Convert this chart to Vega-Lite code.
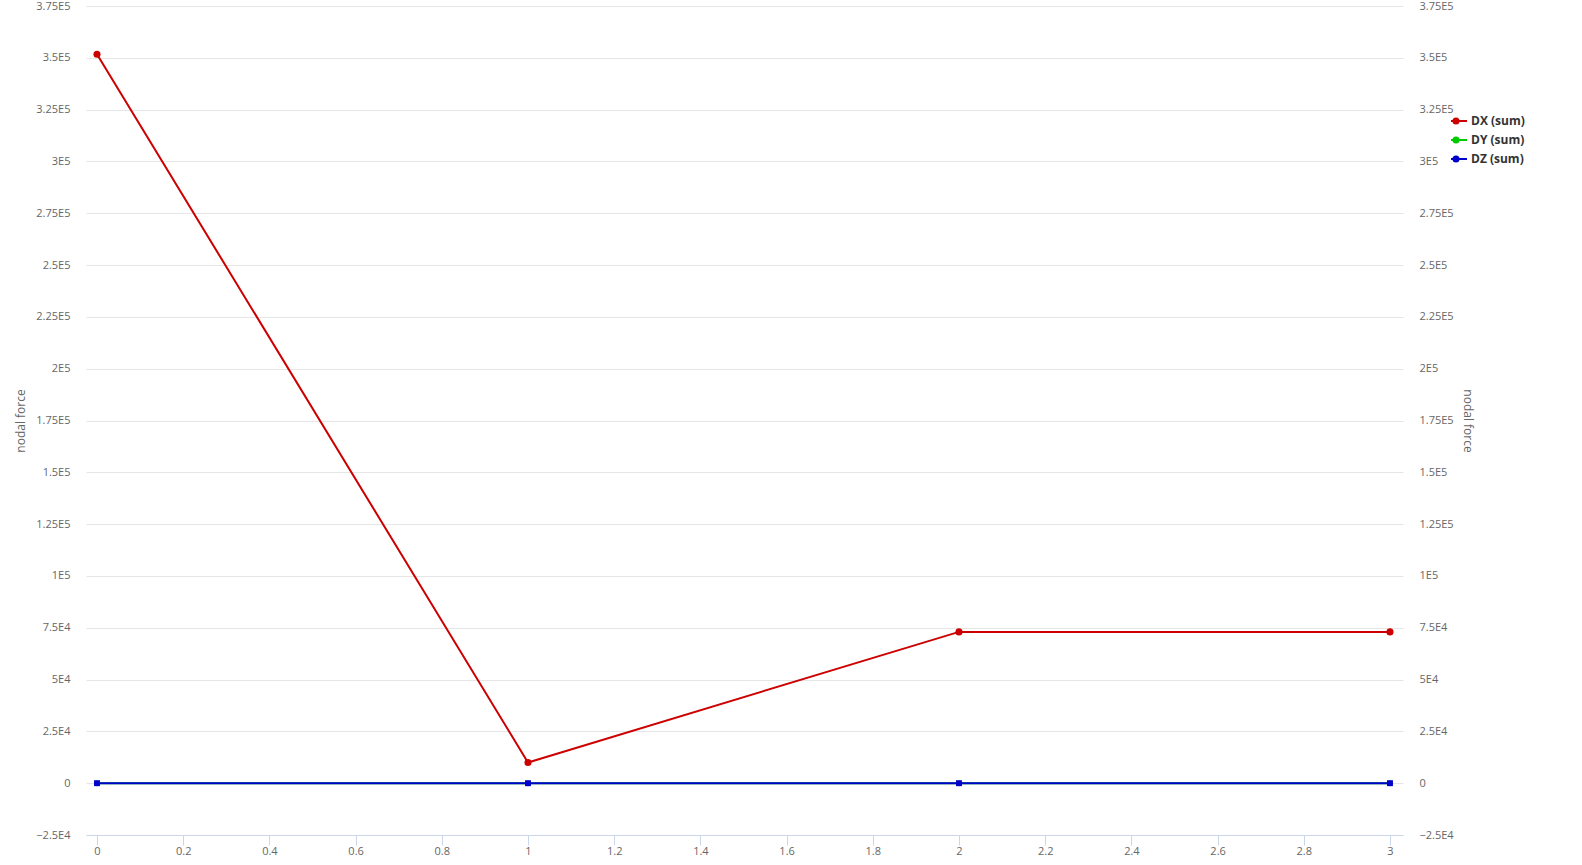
{
  "$schema": "https://vega.github.io/schema/vega-lite/v6.json",
  "width": 1317,
  "height": 829,
  "autosize": {"type": "none"},
  "padding": {"left": 86, "top": 6, "right": 179, "bottom": 30},
  "background": "#ffffff",
  "config": {
    "view": {"stroke": null},
    "font": "Open Sans",
    "axis": {
      "labelColor": "#666666",
      "labelFontSize": 11,
      "titleColor": "#666666",
      "titleFontSize": 12,
      "titleFontWeight": "normal",
      "gridColor": "#e6e6e6",
      "gridWidth": 1
    }
  },
  "data": {
    "values": [
      {"series": "DX (sum)", "x": 0, "value": 351700},
      {"series": "DX (sum)", "x": 1, "value": 10000},
      {"series": "DX (sum)", "x": 2, "value": 73000},
      {"series": "DX (sum)", "x": 3, "value": 73000},
      {"series": "DY (sum)", "x": 0, "value": 0},
      {"series": "DY (sum)", "x": 1, "value": 0},
      {"series": "DY (sum)", "x": 2, "value": 0},
      {"series": "DY (sum)", "x": 3, "value": 0},
      {"series": "DZ (sum)", "x": 0, "value": 0},
      {"series": "DZ (sum)", "x": 1, "value": 0},
      {"series": "DZ (sum)", "x": 2, "value": 0},
      {"series": "DZ (sum)", "x": 3, "value": 0}
    ]
  },
  "layer": [
    {
      "mark": {"type": "line", "strokeWidth": 2},
      "encoding": {
        "x": {
          "field": "x", "type": "quantitative",
          "scale": {"domain": [-0.0255, 3.0302], "nice": false, "zero": false},
          "axis": {
            "title": null,
            "values": [0, 0.2, 0.4, 0.6, 0.8, 1, 1.2, 1.4, 1.6, 1.8, 2, 2.2, 2.4, 2.6, 2.8, 3],
            "format": "~g",
            "grid": false,
            "domainColor": "#ccd6eb",
            "tickColor": "#ccd6eb",
            "tickSize": 10,
            "labelPadding": 0
          }
        },
        "y": {
          "field": "value", "type": "quantitative",
          "scale": {"domain": [-25000, 375000], "nice": false, "zero": false},
          "axis": {
            "title": "nodal force",
            "orient": "left",
            "values": [-25000, 0, 25000, 50000, 75000, 100000, 125000, 150000, 175000, 200000, 225000, 250000, 275000, 300000, 325000, 350000, 375000],
            "labelExpr": "datum.value == 0 ? '0' : (datum.value < 0 ? '−' : '') + format(abs(datum.value) / pow(10, floor(log(abs(datum.value)) / LN10 + 1e-9)), '.4~g') + 'E' + floor(log(abs(datum.value)) / LN10 + 1e-9)",
            "domain": false,
            "ticks": false,
            "labelPadding": 16,
            "grid": true,
            "titleX": -66,
            "titleY": 414.5,
            "titleAngle": -90,
            "titleBaseline": "middle",
            "titleAlign": "center"
          }
        },
        "color": {
          "field": "series", "type": "nominal",
          "scale": {"domain": ["DX (sum)", "DY (sum)", "DZ (sum)"], "range": ["#cc0000", "#00cc00", "#0000cc"]},
          "legend": {
            "title": null,
            "orient": "none",
            "legendX": 1364,
            "legendY": 107,
            "padding": 0,
            "symbolType": "stroke",
            "symbolSize": 256,
            "symbolStrokeWidth": 2,
            "symbolOpacity": 1,
            "clipHeight": 16,
            "rowPadding": 3,
            "labelOffset": 3,
            "labelFontSize": 12,
            "labelFontWeight": "bold",
            "labelColor": "#333333"
          }
        }
      }
    },
    {
      "mark": {"type": "point", "filled": true, "opacity": 1},
      "encoding": {
        "x": {"field": "x", "type": "quantitative"},
        "y": {
          "field": "value", "type": "quantitative",
          "scale": {"domain": [-25000, 375000], "nice": false, "zero": false},
          "axis": null
        },
        "color": {
          "field": "series", "type": "nominal",
          "legend": {
            "title": null,
            "orient": "none",
            "legendX": 1364,
            "legendY": 107,
            "padding": 0,
            "symbolSize": 50,
            "symbolOpacity": 1,
            "symbolStrokeWidth": 0,
            "clipHeight": 16,
            "rowPadding": 3,
            "labelOffset": 3,
            "labelFontSize": 12,
            "labelFontWeight": "bold",
            "labelColor": "#333333",
            "labelExpr": "''"
          }
        },
        "shape": {
          "field": "series", "type": "nominal",
          "scale": {"domain": ["DX (sum)", "DY (sum)", "DZ (sum)"], "range": ["circle", "diamond", "square"]},
          "legend": null
        },
        "size": {
          "field": "series", "type": "nominal",
          "scale": {"domain": ["DX (sum)", "DY (sum)", "DZ (sum)"], "range": [50, 35, 64]},
          "legend": null
        }
      }
    },
    {
      "mark": {"type": "point", "opacity": 0},
      "encoding": {
        "x": {"field": "x", "type": "quantitative"},
        "y": {
          "field": "value", "type": "quantitative",
          "scale": {"domain": [-25000, 375000], "nice": false, "zero": false},
          "axis": {
            "title": "nodal force",
            "orient": "right",
            "values": [-25000, 0, 25000, 50000, 75000, 100000, 125000, 150000, 175000, 200000, 225000, 250000, 275000, 300000, 325000, 350000, 375000],
            "labelExpr": "datum.value == 0 ? '0' : (datum.value < 0 ? '−' : '') + format(abs(datum.value) / pow(10, floor(log(abs(datum.value)) / LN10 + 1e-9)), '.4~g') + 'E' + floor(log(abs(datum.value)) / LN10 + 1e-9)",
            "domain": false,
            "ticks": false,
            "grid": false,
            "labelPadding": 16,
            "titleX": 64,
            "titleY": 414.5,
            "titleAngle": 90,
            "titleBaseline": "middle",
            "titleAlign": "center"
          }
        }
      }
    }
  ],
  "resolve": {"scale": {"y": "independent"}, "legend": {"color": "independent"}}
}
